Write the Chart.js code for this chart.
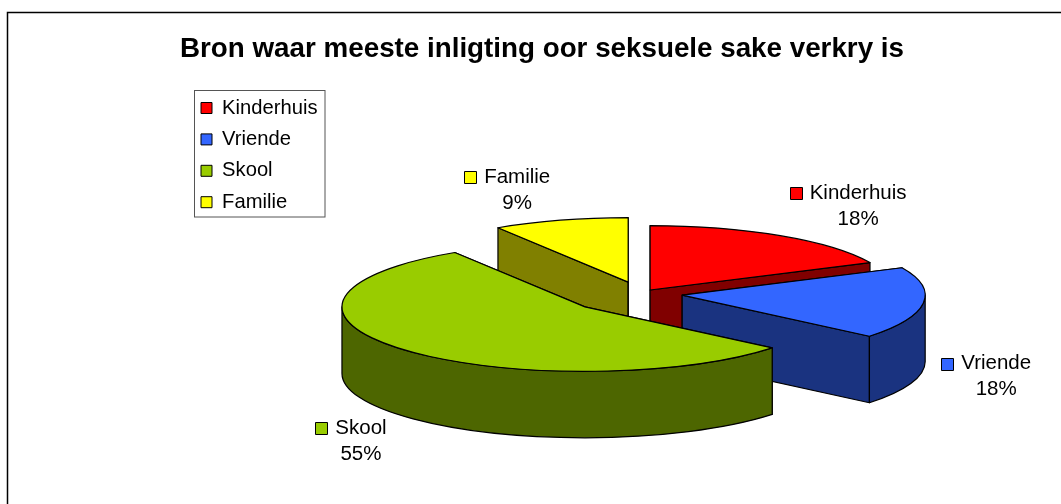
<!DOCTYPE html>
<html><head><meta charset="utf-8">
<style>html,body{margin:0;padding:0;background:#fff}#w{width:1061px;height:504px;position:relative}</style>
<script src="https://cdn.jsdelivr.net/npm/chart.js@4"></script>
</head><body><div id="w"><canvas id="c" width="1061" height="504"></canvas></div>
<script>
const titleText = 'Bron waar meeste inligting oor seksuele sake verkry is';
const categories = ['Kinderhuis', 'Vriende', 'Skool', 'Familie'];
const values = [18, 18, 55, 9];
const topColors = ['#FF0000', '#3366FF', '#99CC00', '#FFFF00'];
const wallColors = ['#800000', '#1A3380', '#4D6600', '#808000'];
const explode = [17, 41.5, 74.7, 46];
const labelShift = [[208, -97], [314, 68.6], [-224, 121], [-111, -105]];
const FONT = '"Liberation Sans", Arial, sans-serif';

const pie3d = {
  id: 'pie3d',
  afterLayout(chart, args, o) {
    chart.legend.left = o.legendX;
    chart.legend.top = o.legendY;
  },
  afterDatasetsUpdate(chart, args, o) {
    const arcs = chart.getDatasetMeta(0).data;
    const shift = o.centerX - (chart.chartArea.left + chart.chartArea.right) / 2;
    arcs.forEach((el, i) => {
      const mid = (el.startAngle + el.endAngle) / 2;
      el.x += shift + Math.cos(mid) * explode[i];
      el.y += Math.sin(mid) * explode[i];
    });
  },
  beforeDatasetsDraw(chart, args, o) {
    const ctx = chart.ctx, arcs = chart.getDatasetMeta(0).data;
    const cy = (chart.chartArea.top + chart.chartArea.bottom) / 2;
    const k = o.squash, d = o.depth;
    const sy = el => cy + (el.y - cy) * k;
    ctx.save();
    ctx.lineWidth = o.line; ctx.strokeStyle = '#000'; ctx.lineJoin = 'round';
    const order = arcs.map((el, i) => i).sort((a, b) => arcs[a].y - arcs[b].y);
    order.forEach(i => {
      const el = arcs[i], r = el.outerRadius, y0 = sy(el), ry = r * k;
      ctx.fillStyle = wallColors[i];
      [el.startAngle, el.endAngle].forEach(a => {
        const ex = el.x + Math.cos(a) * r, ey = y0 + Math.sin(a) * ry;
        ctx.beginPath();
        ctx.moveTo(el.x, y0); ctx.lineTo(ex, ey); ctx.lineTo(ex, ey + d); ctx.lineTo(el.x, y0 + d);
        ctx.closePath(); ctx.fill(); ctx.stroke();
      });
      const a0 = Math.max(el.startAngle, 0), a1 = Math.min(el.endAngle, Math.PI);
      if (a1 > a0) {
        ctx.beginPath();
        ctx.ellipse(el.x, y0, r, ry, 0, a0, a1);
        ctx.ellipse(el.x, y0 + d, r, ry, 0, a1, a0, true);
        ctx.closePath(); ctx.fill(); ctx.stroke();
      }
    });
    ctx.restore();
    ctx.save();
    ctx.translate(0, cy); ctx.scale(1, k); ctx.translate(0, -cy);
  },
  afterDatasetsDraw(chart, args, o) {
    const ctx = chart.ctx, arcs = chart.getDatasetMeta(0).data;
    ctx.restore();
    const cy = (chart.chartArea.top + chart.chartArea.bottom) / 2;
    const k = o.squash;
    ctx.save();
    ctx.lineWidth = o.line; ctx.strokeStyle = '#000'; ctx.lineJoin = 'round';
    arcs.forEach(el => {
      const y0 = cy + (el.y - cy) * k;
      ctx.beginPath();
      ctx.moveTo(el.x, y0);
      ctx.ellipse(el.x, y0, el.outerRadius, el.outerRadius * k, 0, el.startAngle, el.endAngle);
      ctx.closePath(); ctx.stroke();
    });
    // data labels
    ctx.font = '20.5px ' + FONT;
    ctx.textBaseline = 'middle';
    arcs.forEach((el, i) => {
      const y0 = cy + (el.y - cy) * k;
      const tx = el.x + labelShift[i][0], ty = y0 + labelShift[i][1];
      const total = values.reduce((a, b) => a + b, 0);
      const w = ctx.measureText(categories[i]).width;
      ctx.fillStyle = '#000'; ctx.textAlign = 'center';
      ctx.fillText(categories[i], tx, ty);
      ctx.fillText(Math.round(values[i] / total * 100) + '%', tx, ty + 26);
      ctx.fillStyle = topColors[i];
      ctx.lineWidth = 1;
      const bx = Math.round(tx - w / 2 - 20) + .5, by = Math.round(ty - 6) + .5;
      ctx.fillRect(bx, by, 12, 12); ctx.strokeRect(bx, by, 12, 12);
    });
    ctx.restore();
  },
  beforeDraw(chart) {
    const ctx = chart.ctx;
    ctx.save();
    ctx.strokeStyle = '#000'; ctx.lineWidth = 1.5;
    ctx.beginPath();
    ctx.moveTo(7.5, 504); ctx.lineTo(7.5, 12.5); ctx.lineTo(1061, 12.5);
    ctx.stroke();
    ctx.restore();
  },
  afterDraw(chart, args, o) {
    const ctx = chart.ctx, b = o.legendFrame;
    ctx.save();
    ctx.strokeStyle = '#555'; ctx.lineWidth = 1;
    ctx.strokeRect(b[0], b[1], b[2], b[3]);
    ctx.restore();
  }
};

new Chart(document.getElementById('c'), {
  type: 'pie',
  data: { labels: categories, datasets: [{ data: values, backgroundColor: topColors, borderWidth: 0, clip: false }] },
  plugins: [pie3d],
  options: {
    responsive: false, animation: false, events: [],
    radius: 243,
    layout: { padding: { left: 180, right: 157, top: 0, bottom: 5 } },
    plugins: {
      pie3d: { squash: 0.265, depth: 66.5, centerX: 641, line: 1.2,
        legendX: 189.8, legendY: 86.7, legendFrame: [194.5, 90.5, 130.5, 126.5] },
      tooltip: { enabled: false },
      title: { display: true, text: titleText, color: '#000',
        font: { family: FONT, size: 28, weight: 'bold', lineHeight: 1.2 },
        padding: { top: 32.5, bottom: 22.5 } },
      legend: { position: 'left', align: 'start', fullSize: false,
        labels: { color: '#000', boxWidth: 11, boxHeight: 11, padding: 11.2,
          font: { family: FONT, size: 20.2, lineHeight: 1.17 },
          generateLabels(chart) {
            return Chart.overrides.pie.plugins.legend.labels.generateLabels(chart)
              .map(l => Object.assign(l, { strokeStyle: '#000', lineWidth: 1 }));
          } } }
    }
  }
});
</script></body></html>
